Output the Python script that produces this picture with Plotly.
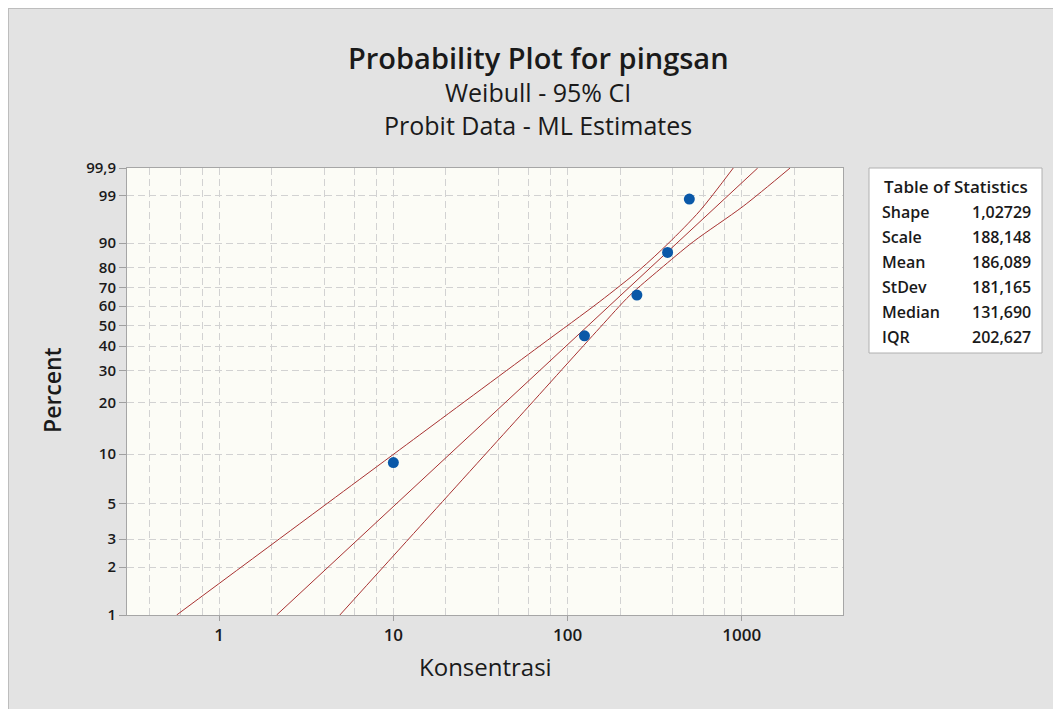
import numpy as np
import plotly.graph_objects as go

# ---------------- data ----------------
concentration = [10, 125, 250, 375, 500]
percent_observed = [8.9, 44.8, 66.0, 86.6, 98.76]

weibull_shape = 1.02729
weibull_scale = 188.148
fit_percent_ends = [1.0, 99.9]

upper_ci_conc = [0.57, 2.90, 14.17, 69.3, 153.2, 260.2, 376.7, 575.3, 893.6]
upper_ci_pct = [1.0, 3.74, 13.05, 40.13, 62.54, 79.11, 89.80, 97.53, 99.9]

lower_ci_conc = [4.93, 14.17, 53.2, 153.2, 227.9, 338.8, 526.3, 1019.8, 1892.6]
lower_ci_pct = [1.0, 3.585, 16.78, 48.80, 65.87, 79.25, 90.47, 98.08, 99.9]

y_tick_pct = [1, 2, 3, 5, 10, 20, 30, 40, 50, 60, 70, 80, 90, 99, 99.9]
y_tick_text = ["1", "2", "3", "5", "10", "20", "30", "40", "50", "60", "70", "80", "90", "99", "99,9"]
x_tick_vals = [1, 10, 100, 1000]
x_tick_text = ["1", "10", "100", "1000"]
x_minor_vals = [0.4, 0.6, 0.8, 2, 4, 6, 8, 20, 40, 60, 80, 200, 400, 600, 800, 2000]

stat_names = ["Shape", "Scale", "Mean", "StDev", "Median", "IQR"]
stat_values = ["1,02729", "188,148", "186,089", "181,165", "131,690", "202,627"]

title_lines = ["Probability Plot for pingsan", "Weibull - 95% CI", "Probit Data - ML Estimates"]


def wb(p):
    p = np.asarray(p, dtype=float) / 100.0
    return np.log(-np.log(1.0 - p))


# fitted Weibull line from the table parameters
fit_w = wb(fit_percent_ends)
fit_x = weibull_scale * np.exp(fit_w / weibull_shape)

# ---------------- layout geometry ----------------
OFF = 8  # page body margin
W, H = 1061, 709
L, R, T, B = 119, 226, 160, 102
PW, PH = W - L - R, H - T - B


def ax(px):  # screen pixel -> paper x
    return (px - OFF - L) / PW


def ay(py):  # screen pixel -> paper y
    return (H - B - (py - OFF)) / PH


FONT = "Open Sans"
TXT = "#1a1a1a"
RED = "#a83232"

fig = go.Figure()

line_style = dict(color=RED, width=1, shape="spline", smoothing=0.8)
fig.add_trace(go.Scatter(x=upper_ci_conc, y=wb(upper_ci_pct), mode="lines",
                         line=line_style, hoverinfo="skip", showlegend=False))
fig.add_trace(go.Scatter(x=fit_x, y=fit_w, mode="lines",
                         line=dict(color=RED, width=1), hoverinfo="skip", showlegend=False))
fig.add_trace(go.Scatter(x=lower_ci_conc, y=wb(lower_ci_pct), mode="lines",
                         line=line_style, hoverinfo="skip", showlegend=False))
fig.add_trace(go.Scatter(x=concentration, y=wb(percent_observed), mode="markers",
                         marker=dict(color="#0a58a8", size=11), showlegend=False))

grid = dict(showgrid=True, gridcolor="#d2d2d2", gridwidth=1, griddash="7px,4px")

fig.update_xaxes(type="log", range=[-0.529, 3.581], tickmode="array",
                 tickvals=x_tick_vals, ticktext=x_tick_text,
                 ticks="outside", ticklen=5, tickcolor="#a0a0a0",
                 showline=True, linecolor="#a6a6a6", linewidth=1, mirror=True,
                 zeroline=False,
                 tickfont=dict(family=FONT, size=17, color=TXT, weight=600),
                 minor=dict(tickmode="array", tickvals=x_minor_vals, showgrid=True,
                            gridcolor="#d2d2d2", gridwidth=1, griddash="7px,4px", ticks=""),
                 **grid)
fig.update_yaxes(range=[float(wb(1.0)), float(wb(99.9))], tickmode="array",
                 tickvals=wb(y_tick_pct), ticktext=y_tick_text,
                 ticks="outside", ticklen=7, tickcolor="#a0a0a0",
                 showline=True, linecolor="#a6a6a6", linewidth=1, mirror=True,
                 zeroline=False,
                 tickfont=dict(family=FONT, size=15, color=TXT, weight=600),
                 **grid)

shapes = [
    # panel border (top and left edges)
    dict(type="line", xref="paper", yref="paper", x0=ax(8), x1=ax(1061), y0=ay(8.5), y1=ay(8.5),
         line=dict(color="#bdbdbd", width=1)),
    dict(type="line", xref="paper", yref="paper", x0=ax(8.5), x1=ax(8.5), y0=ay(8), y1=ay(709),
         line=dict(color="#bdbdbd", width=1)),
    # table of statistics box
    dict(type="rect", xref="paper", yref="paper", x0=ax(869), x1=ax(1042), y0=ay(168), y1=ay(353),
         fillcolor="#ffffff", line=dict(color="#b0b0b0", width=1)),
]

annotations = []
title_y = [57, 92, 125]
title_sizes = [29, 25, 25]
title_weights = [600, 500, 500]
for txt, yy, sz, wt in zip(title_lines, title_y, title_sizes, title_weights):
    annotations.append(dict(text=txt, x=ax(538), y=ay(yy), xref="paper", yref="paper",
                            xanchor="center", yanchor="middle", showarrow=False,
                            font=dict(family=FONT, size=sz, color=TXT, weight=wt)))

annotations.append(dict(text="Percent", x=ax(52), y=ay(390), xref="paper", yref="paper",
                        textangle=-90, xanchor="center", yanchor="middle", showarrow=False,
                        font=dict(family=FONT, size=23, color=TXT, weight=600)))
annotations.append(dict(text="Konsentrasi", x=ax(485), y=ay(666), xref="paper", yref="paper",
                        xanchor="center", yanchor="middle", showarrow=False,
                        font=dict(family=FONT, size=24, color=TXT, weight=500)))

annotations.append(dict(text="Table of Statistics", x=ax(956), y=ay(186), xref="paper", yref="paper",
                        xanchor="center", yanchor="middle", showarrow=False,
                        font=dict(family=FONT, size=17, color=TXT, weight=600)))
for i, (nm, val) in enumerate(zip(stat_names, stat_values)):
    yy = 212 + 25 * i
    annotations.append(dict(text=nm, x=ax(880), y=ay(yy), xref="paper", yref="paper",
                            xanchor="left", yanchor="middle", showarrow=False,
                            font=dict(family=FONT, size=16, color=TXT, weight=600)))
    annotations.append(dict(text=val, x=ax(1033), y=ay(yy), xref="paper", yref="paper",
                            xanchor="right", yanchor="middle", showarrow=False,
                            font=dict(family=FONT, size=16, color=TXT, weight=600)))

fig.update_layout(
    width=W, height=H,
    margin=dict(l=L, r=R, t=T, b=B, pad=0),
    paper_bgcolor="#e3e3e3",
    plot_bgcolor="#fcfcf6",
    font=dict(family=FONT, color=TXT),
    shapes=shapes,
    annotations=annotations,
    showlegend=False,
)

fig.write_html("out.html")
